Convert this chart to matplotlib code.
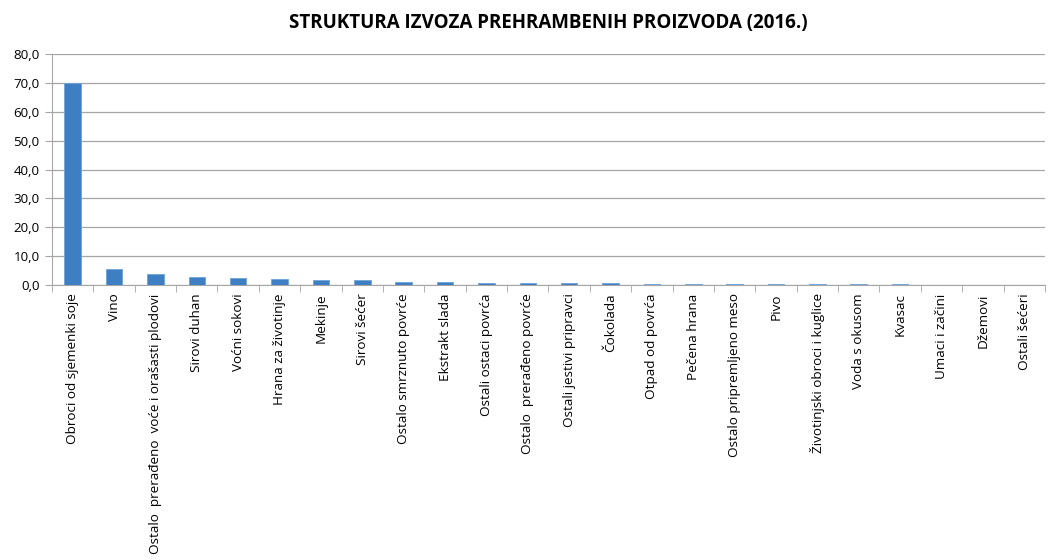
import matplotlib
matplotlib.use('Agg')
import matplotlib.pyplot as plt
import numpy as np

categories = [
    'Obroci od sjemenki soje', 'Vino', 'Ostalo  prerađeno  voće i orašasti plodovi',
    'Sirovi duhan', 'Voćni sokovi', 'Hrana za životinje', 'Mekinje', 'Sirovi šećer',
    'Ostalo smrznuto povrće', 'Ekstrakt slada', 'Ostali ostaci povrća',
    'Ostalo  prerađeno povrće', 'Ostali jestivi pripravci', 'Čokolada',
    'Otpad od povrća', 'Pečena hrana', 'Ostalo pripremljeno meso', 'Pivo',
    'Životinjski obroci i kuglice', 'Voda s okusom', 'Kvasac', 'Umaci i začini',
    'Džemovi', 'Ostali šećeri',
]
values = [70.0, 5.7, 3.7, 2.7, 2.3, 2.1, 1.9, 1.6, 1.2, 1.1, 0.8, 0.7, 0.6,
          0.6, 0.5, 0.5, 0.4, 0.2, 0.2, 0.2, 0.2, 0.1, 0.1, 0.1]
yticks = [0, 10, 20, 30, 40, 50, 60, 70, 80]

plt.rcParams['font.family'] = ['Open Sans', 'DejaVu Sans']

fig = plt.figure(figsize=(10.57, 5.6), dpi=100)
ax = fig.add_axes([0.0492, 0.491, 0.9394, 0.4126])

x = np.arange(len(categories))
ax.bar(x, values, width=0.4, color='#3d7fc2', edgecolor='#6fa3d8', linewidth=0.6, zorder=3)

ax.set_xlim(-0.5, len(categories) - 0.5)
ax.set_ylim(0, 80)
ax.set_yticks(yticks)
ax.set_yticklabels(['{:.1f}'.format(v).replace('.', ',') for v in yticks], fontsize=9.6)
ax.yaxis.grid(True, color='#a6a6a6', linewidth=0.9, zorder=0)

ax.set_xticks(x)
ax.set_xticklabels(categories, rotation=90, fontsize=9.7)
ax.set_xticks(np.arange(-0.5, len(categories)), minor=True)
ax.tick_params(axis='x', which='major', length=0, pad=6)
ax.tick_params(axis='x', which='minor', length=5, color='#a6a6a6')
ax.tick_params(axis='y', length=5, color='#a6a6a6', pad=4)

for s in ['top', 'right']:
    ax.spines[s].set_visible(False)
for s in ['left', 'bottom']:
    ax.spines[s].set_color('#a6a6a6')

ax.set_title('STRUKTURA IZVOZA PREHRAMBENIH PROIZVODA (2016.)', fontsize=13.5,
             fontweight='bold', pad=19)

fig.savefig('out.png', dpi=100)
